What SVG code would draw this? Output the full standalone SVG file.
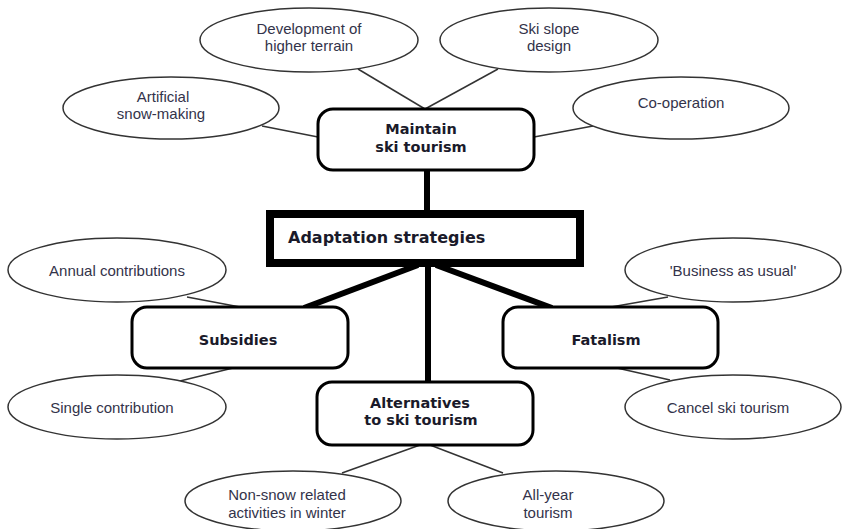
<svg xmlns="http://www.w3.org/2000/svg" width="842" height="529" viewBox="0 0 842 529">
<style>
.ell{fill:#fff;stroke:#333;stroke-width:1.5}
.box{fill:#fff;stroke:#000;stroke-width:3}
.et{font-family:"Liberation Sans",Arial,sans-serif;font-size:15px;fill:#33334a;text-anchor:middle}
.bt{font-family:"DejaVu Sans",Verdana,sans-serif;font-weight:bold;font-size:14.5px;fill:#1a1a2a;text-anchor:middle}
.thin{stroke:#333;stroke-width:1.5;fill:none}
.thick{stroke:#000;stroke-width:6;fill:none}
</style>
<rect width="842" height="529" fill="#fff"/>
<g id="connectors">
<line class="thick" x1="427" y1="170" x2="427" y2="212"/>
<line class="thick" x1="428" y1="265" x2="428" y2="383"/>
<line class="thick" x1="418" y1="265" x2="304" y2="308" stroke-width="5"/>
<line class="thick" x1="436" y1="265" x2="552" y2="308" stroke-width="5"/>
<line class="thin" x1="358" y1="69" x2="425" y2="109"/>
<line class="thin" x1="498" y1="69" x2="425" y2="109"/>
<line class="thin" x1="262" y1="126" x2="318" y2="137"/>
<line class="thin" x1="593" y1="126" x2="534" y2="137"/>
<line class="thin" x1="187" y1="297" x2="240" y2="307"/>
<line class="thin" x1="233" y1="368" x2="180" y2="381"/>
<line class="thin" x1="668" y1="297" x2="611" y2="307"/>
<line class="thin" x1="617" y1="368" x2="670" y2="380"/>
<line class="thin" x1="420" y1="445" x2="342" y2="473"/>
<line class="thin" x1="430" y1="445" x2="503" y2="473"/>
</g>
<g id="dev-terrain"><ellipse class="ell" cx="309" cy="40" rx="109" ry="32"/><text class="et" x="309" y="34">Development of</text><text class="et" x="309" y="51">higher terrain</text></g>
<g id="ski-slope"><ellipse class="ell" cx="549" cy="40" rx="109" ry="32"/><text class="et" x="549" y="34">Ski slope</text><text class="et" x="549" y="51">design</text></g>
<g id="artificial"><ellipse class="ell" cx="171" cy="108" rx="108" ry="31"/><text class="et" x="163" y="102">Artificial</text><text class="et" x="161" y="119">snow-making</text></g>
<g id="cooperation"><ellipse class="ell" cx="681" cy="108" rx="108" ry="31"/><text class="et" x="681" y="108">Co-operation</text></g>
<g id="maintain"><rect class="box" x="318" y="109" width="216" height="61" rx="15"/><text class="bt" x="421" y="134">Maintain</text><text class="bt" x="421" y="152">ski tourism</text></g>
<g id="adaptation"><rect x="270" y="214" width="310" height="49" fill="#fff" stroke="#000" stroke-width="8"/><text x="288" y="243" font-family="DejaVu Sans,Verdana,sans-serif" font-weight="bold" font-size="16" fill="#1a1a2a">Adaptation strategies</text></g>
<g id="annual"><ellipse class="ell" cx="117" cy="270" rx="109" ry="32"/><text class="et" x="117" y="276">Annual contributions</text></g>
<g id="business"><ellipse class="ell" cx="733" cy="270" rx="108" ry="32"/><text class="et" x="733" y="276">'Business as usual'</text></g>
<g id="subsidies"><rect class="box" x="132" y="307" width="216" height="61" rx="15"/><text class="bt" x="238" y="345">Subsidies</text></g>
<g id="fatalism"><rect class="box" x="503" y="307" width="215" height="61" rx="15"/><text class="bt" x="606" y="345">Fatalism</text></g>
<g id="single"><ellipse class="ell" cx="117" cy="407" rx="109" ry="32"/><text class="et" x="112" y="413">Single contribution</text></g>
<g id="cancel"><ellipse class="ell" cx="733" cy="407" rx="108" ry="32"/><text class="et" x="728" y="413">Cancel ski tourism</text></g>
<g id="alternatives"><rect class="box" x="317" y="382" width="216" height="63" rx="15"/><text class="bt" x="420" y="408">Alternatives</text><text class="bt" x="421" y="425">to ski tourism</text></g>
<g id="non-snow"><ellipse class="ell" cx="293" cy="501" rx="108" ry="30"/><text class="et" x="287" y="500">Non-snow related</text><text class="et" x="287" y="518">activities in winter</text></g>
<g id="all-year"><ellipse class="ell" cx="556" cy="501" rx="108" ry="30"/><text class="et" x="548" y="500">All-year</text><text class="et" x="548" y="518">tourism</text></g>
</svg>
